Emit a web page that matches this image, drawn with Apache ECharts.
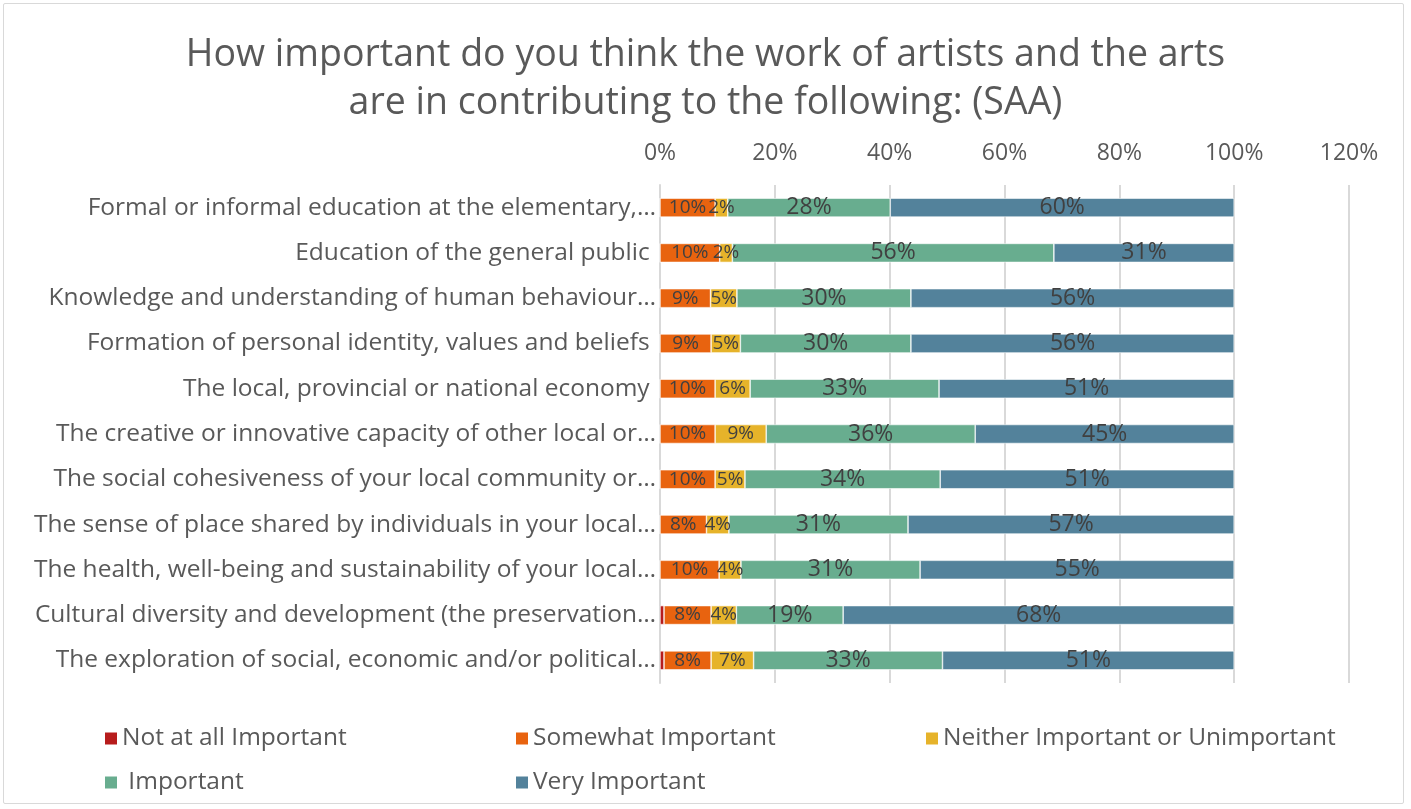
<!DOCTYPE html>
<html>
<head>
<meta charset="utf-8">
<script src="https://cdn.jsdelivr.net/npm/echarts@6/dist/echarts.min.js"></script>
<style>
  html, body { margin: 0; padding: 0; background: #fff; }
  #frame { position: absolute; left: 3px; top: 3px; width: 1401px; height: 801px; border: 1px solid #d9d9d9; border-radius: 2px; box-sizing: border-box; }
  #chart { position: absolute; left: 0; top: 0; width: 1411px; height: 809px; }
</style>
</head>
<body>
<div id="frame"></div>
<div id="chart"></div>
<script>
// Survey statements (as shown on the axis)
const categories = [
  "Formal or informal education at the elementary,…",
  "Education of the general public ",
  "Knowledge and understanding of human behaviour…",
  "Formation of personal identity, values and beliefs ",
  "The local, provincial or national economy ",
  "The creative or innovative capacity of other local or…",
  "The social cohesiveness of your local community or…",
  "The sense of place shared by individuals in your local…",
  "The health, well-being and sustainability of your local…",
  "Cultural diversity and development (the preservation…",
  "The exploration of social, economic and/or political…"
];

// Share of respondents (%) per answer
const notAtAll   = [0, 0, 0, 0, 0, 0, 0, 0, 0, 0.7, 0.7];
const somewhat   = [9.6, 10.4, 8.8, 8.9, 9.6, 9.6, 9.6, 8.1, 10.3, 8.2, 8.2];
const neither    = [2.2, 2.2, 4.6, 5.1, 6.1, 8.9, 5.2, 3.9, 3.8, 4.4, 7.4];
const important  = [28.3, 56.0, 30.3, 29.7, 32.9, 36.4, 34.0, 31.2, 31.2, 18.6, 32.9];
const veryImp    = [59.9, 31.4, 56.3, 56.3, 51.4, 45.1, 51.2, 56.8, 54.7, 68.1, 50.8];

const xTicks = [0, 20, 40, 60, 80, 100, 120];

const FONT = "'Open Sans', 'Lato', sans-serif";
const GREY = '#595959';

const seriesDefs = [
  { name: 'Not at all Important', data: notAtAll, color: '#B71C1C', size: 19 },
  { name: 'Somewhat Important', data: somewhat, color: '#E8630F', size: 19 },
  { name: 'Neither Important or Unimportant', data: neither, color: '#E6B32A', size: 19 },
  { name: ' Important', data: important, color: '#68AD8F', size: 23 },
  { name: 'Very Important', data: veryImp, color: '#53829B', size: 23 }
];

const chart = echarts.init(document.getElementById('chart'), null, { renderer: 'canvas' });

// Legend laid out in three columns, two rows
const legendPos = [
  [100, 721], [511, 721], [921, 721],
  [100, 765], [511, 765]
];

const option = {
  backgroundColor: 'transparent',
  textStyle: { fontFamily: FONT },
  title: {
    text: 'How important do you think the work of artists and the arts\nare in contributing to the following: (SAA)',
    left: 'center',
    top: 26,
    textStyle: { fontFamily: FONT, fontSize: 37.5, fontWeight: 'normal', color: GREY, lineHeight: 48 }
  },
  legend: seriesDefs.map((s, i) => ({
    data: [s.name],
    left: legendPos[i][0],
    top: legendPos[i][1],
    itemWidth: 12,
    itemHeight: 12,
    itemGap: 0,
    icon: 'rect',
    itemStyle: { borderWidth: 0 },
    textStyle: { fontFamily: FONT, fontSize: 24.5, color: GREY, padding: [0, 0, 0, 0] }
  })),
  grid: { left: 660, right: 62, top: 185, bottom: 126, containLabel: false },
  xAxis: {
    type: 'value',
    position: 'top',
    min: xTicks[0],
    max: xTicks[xTicks.length - 1],
    interval: 20,
    axisLine: { show: false },
    axisTick: { show: false },
    axisLabel: { formatter: '{value}%', fontSize: 23, color: GREY, fontFamily: FONT, margin: 20 },
    splitLine: { lineStyle: { color: '#d9d9d9', width: 2 } }
  },
  yAxis: {
    type: 'category',
    data: categories,
    inverse: true,
    axisLine: { show: true, lineStyle: { color: '#d9d9d9', width: 2 } },
    axisTick: { show: false },
    axisLabel: { fontSize: 24.5, color: GREY, fontFamily: FONT, margin: 4 }
  },
  series: seriesDefs.map(s => ({
    name: s.name,
    type: 'bar',
    stack: 'total',
    data: s.data,
    barWidth: 19,
    itemStyle: { color: s.color, borderColor: '#fff', borderWidth: 0.6 },
    label: {
      show: true,
      position: 'inside',
      color: '#404040',
      fontFamily: FONT,
      fontSize: s.size,
      formatter: p => p.value >= 1 ? Math.round(p.value) + '%' : ''
    }
  })),
  animation: false
};

chart.setOption(option);
</script>
</body>
</html>
